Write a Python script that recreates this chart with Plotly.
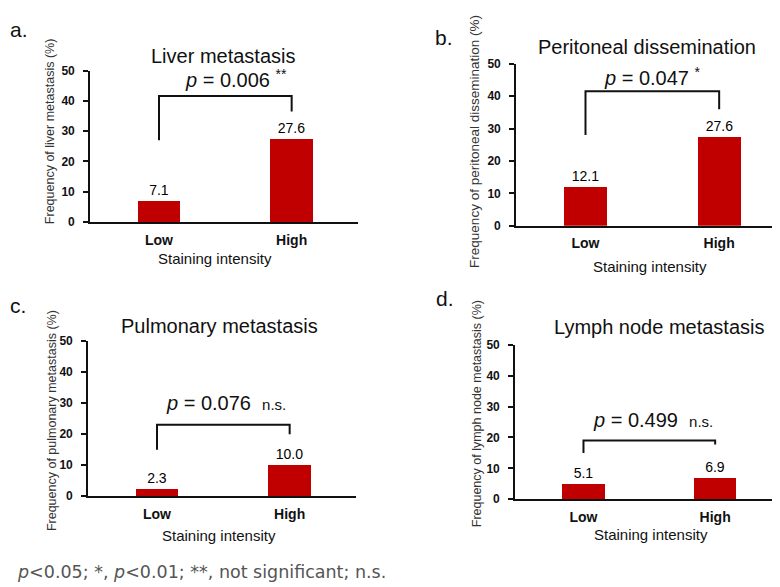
import plotly.graph_objects as go

# ---------------- data ----------------
categories = ["Low", "High"]
liver = [7.1, 27.6]
peritoneal = [12.1, 27.6]
pulmonary = [2.3, 10.0]
lymph = [5.1, 6.9]
series = [liver, peritoneal, pulmonary, lymph]

panel_letters = ["a.", "b.", "c.", "d."]
titles = ["Liver metastasis", "Peritoneal dissemination", "Pulmonary metastasis", "Lymph node metastasis"]
ytitles = ["Frequency of liver metastasis (%)", "Frequency of peritoneal dissemination (%)",
           "Frequency of pulmonary metastasis (%)", "Frequency of lymph node metastasis (%)"]
p_values = ["0.006", "0.047", "0.076", "0.499"]
p_marks = ["**", "*", "n.s.", "n.s."]
# bracket heights (in % units): horizontal bar, left leg end, right leg end
bracket_top = [41.6, 41.5, 23.0, 19.0]
bracket_left = [27.0, 28.0, 15.0, 15.0]
bracket_right = [36.5, 36.0, 20.0, 17.7]
y_ticks = [0, 10, 20, 30, 40, 50]
xlabel = "Staining intensity"
footnote = "<i>p</i><0.05; *, <i>p</i><0.01; **, not significant; n.s."

# ---------------- layout geometry (pixels) ----------------
W, H = 780, 587
# plot area: x0, x1, top, bottom
boxes = [(82, 350, 57, 212), (508, 778, 50, 216), (80, 348, 334, 493), (507, 773, 338, 496)]
title_pos = [(215, 42), (639, 33), (212, 319), (651, 320)]
p_pos = [(228, 65), (644, 63), (218, 397), (645, 415)]
letter_pos = [(0, 15), (425, 23), (0, 298), (426, 290)]
ytitle_pos = [(42, 120), (467, 130), (44, 416), (469, 409)]
ytitle_size = [12.5, 13.5, 12.5, 12.5]
xtitle_pos = [(207, 249), (642, 258), (211, 533), (643, 532)]

def fx(x):
    return x / W

def fy(y):
    return 1 - y / H

FONT = "Liberation Sans, Arial, sans-serif"
RED = "#C00000"

fig = go.Figure()
shapes = []
annotations = []
xpos = list(range(len(categories)))

for i, vals in enumerate(series):
    n = "" if i == 0 else str(i + 1)
    fig.add_trace(go.Bar(
        x=xpos, y=vals, xaxis="x" + n, yaxis="y" + n,
        marker=dict(color=RED, line=dict(width=0)),
        width=0.32,
        text=[f"{v:.1f}" for v in vals], textposition="outside",
        textfont=dict(family=FONT, size=14, color="#000"),
        cliponaxis=False, showlegend=False,
    ))
    x0, x1, top, bottom = boxes[i]
    fig.layout["xaxis" + n] = dict(
        domain=[fx(x0), fx(x1)], anchor="y" + n, range=[-0.52, 1.5],
        tickvals=xpos, ticktext=categories, showline=True, linecolor="#111", linewidth=1.6,
        ticks="", showgrid=False, zeroline=False, fixedrange=True,
        tickfont=dict(family=FONT, size=14, color="#111", weight="bold"), ticklabelstandoff=4,
    )
    fig.layout["yaxis" + n] = dict(
        domain=[fy(bottom), fy(top)], anchor="x" + n, range=[0, 50],
        tickvals=y_ticks, showline=True, linecolor="#111", linewidth=1.6,
        ticks="outside", ticklen=5, tickwidth=1.5, tickcolor="#111", showgrid=False, zeroline=False,
        tickfont=dict(family=FONT, size=12, color="#111", weight="bold"), ticklabelstandoff=6,
    )
    xr, yr = "x" + n, "y" + n
    shapes.append(dict(
        type="path", xref=xr, yref=yr,
        path=f"M {xpos[0]},{bracket_left[i]} L {xpos[0]},{bracket_top[i]} L {xpos[1]},{bracket_top[i]} L {xpos[1]},{bracket_right[i]}",
        line=dict(color="#111", width=2),
    ))
    annotations.append(dict(text=titles[i], x=fx(title_pos[i][0]), y=fy(title_pos[i][1]),
                            xref="paper", yref="paper", xanchor="center", yanchor="middle",
                            showarrow=False, font=dict(family=FONT, size=20, color="#111")))
    if p_marks[i] == "n.s.":
        ptxt = f"<i>p</i> = {p_values[i]}  <span style='font-size:15px'>{p_marks[i]}</span>"
    else:
        ptxt = f"<i>p</i> = {p_values[i]} <sup>{p_marks[i]}</sup>"
    annotations.append(dict(text=ptxt, x=fx(p_pos[i][0]), y=fy(p_pos[i][1]),
                            xref="paper", yref="paper", xanchor="center", yanchor="middle",
                            showarrow=False, font=dict(family=FONT, size=20, color="#111")))
    annotations.append(dict(text=panel_letters[i], x=fx(letter_pos[i][0]), y=fy(letter_pos[i][1]),
                            xref="paper", yref="paper", xanchor="left", yanchor="middle",
                            showarrow=False, font=dict(family=FONT, size=21, color="#111")))
    annotations.append(dict(text=ytitles[i], x=fx(ytitle_pos[i][0]), y=fy(ytitle_pos[i][1]),
                            xref="paper", yref="paper", xanchor="center", yanchor="middle",
                            textangle=-90, showarrow=False,
                            font=dict(family=FONT, size=ytitle_size[i], color="#333")))
    annotations.append(dict(text=xlabel, x=fx(xtitle_pos[i][0]), y=fy(xtitle_pos[i][1]),
                            xref="paper", yref="paper", xanchor="center", yanchor="middle",
                            showarrow=False, font=dict(family=FONT, size=15, color="#111")))

annotations.append(dict(text=footnote, x=fx(7), y=fy(571), xref="paper", yref="paper",
                        xanchor="left", yanchor="middle", showarrow=False,
                        font=dict(family="DejaVu Sans, sans-serif", size=17.5, color="#555")))

fig.update_layout(
    width=W, height=H, margin=dict(l=0, r=0, t=0, b=0),
    paper_bgcolor="white", plot_bgcolor="white",
    shapes=shapes, annotations=annotations, bargap=0,
)

fig.write_html("out.html")
